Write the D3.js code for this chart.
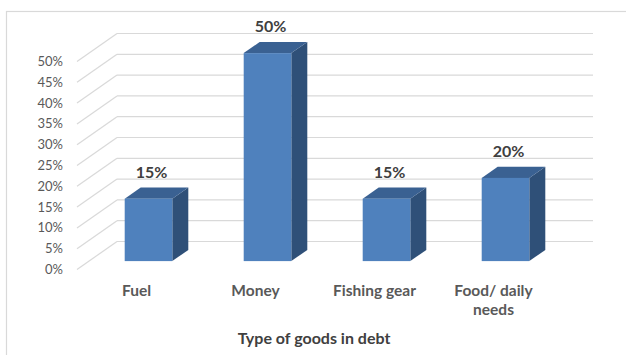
<!DOCTYPE html>
<html>
<head>
<meta charset="utf-8">
<script src="https://cdn.jsdelivr.net/npm/d3@7"></script>
<style>
  html, body { margin: 0; padding: 0; background: #fff; }
  svg { display: block; }
  text { font-family: Lato, "Open Sans", sans-serif; }
</style>
</head>
<body>
<svg id="chart" width="626" height="355"></svg>
<script>
// ---- data ----
const categories = ["Fuel", "Money", "Fishing gear", "Food/ daily needs"];
const categoryLines = [["Fuel"], ["Money"], ["Fishing gear"], ["Food/ daily", "needs"]];
const values = [0.15, 0.50, 0.15, 0.20];
const valueLabels = ["15%", "50%", "15%", "20%"];
const yTicks = [0, 0.05, 0.10, 0.15, 0.20, 0.25, 0.30, 0.35, 0.40, 0.45, 0.50];
const axisTitle = "Type of goods in debt";

// ---- layout ----
const svg = d3.select("#chart");
const DX = 40, DY = -28;          // full depth offset of the 3D box
const f0 = 0.3, f1 = 0.7;         // bar depth range (fraction of full depth)

const x = d3.scaleBand().domain(categories).range([77, 553])
  .paddingInner(0.6).paddingOuter(0.3);
const y = d3.scaleLinear().domain([0, 0.5]).range([269.5, 61.5]);

// outer border
svg.append("rect").attr("x", 6.5).attr("y", 11.5).attr("width", 700).attr("height", 400)
  .attr("fill", "none").attr("stroke", "#d9d9d9").attr("stroke-width", 1.2);

// gridlines: diagonal on the left wall + horizontal on back wall
const grid = svg.append("g").attr("stroke", "#d9d9d9").attr("stroke-width", 1.2).attr("fill", "none");
yTicks.forEach(t => {
  const yf = y(t);
  grid.append("line").attr("x1", 77).attr("y1", yf).attr("x2", 77 + DX).attr("y2", yf + DY);
  grid.append("line").attr("x1", 77 + DX).attr("y1", yf + DY).attr("x2", 553 + DX).attr("y2", yf + DY);
});

// y tick labels
svg.append("g").selectAll("text").data(yTicks).join("text")
  .attr("x", 63).attr("y", d => y(d)).attr("dy", "0.35em")
  .attr("text-anchor", "end").attr("font-size", 13).attr("fill", "#595959")
  .text(d3.format(".0%"));

// bars
const bars = svg.append("g");
const bw = x.bandwidth();
values.forEach((v, i) => {
  const c = categories[i];
  const x0 = x(c) + f0 * DX, x1 = x0 + bw;
  const yt = y(v) + f0 * DY, yb = y(0) + f0 * DY;
  const ddx = (f1 - f0) * DX, ddy = (f1 - f0) * DY;
  bars.append("path")
    .attr("d", `M${x1},${yt}L${x1 + ddx},${yt + ddy}L${x1 + ddx},${yb + ddy}L${x1},${yb}Z`)
    .attr("fill", "#2f5078");
  bars.append("path")
    .attr("d", `M${x0},${yt}L${x0 + ddx},${yt + ddy}L${x1 + ddx},${yt + ddy}L${x1},${yt}Z`)
    .attr("fill", "#3a6192");
  bars.append("rect").attr("x", x0).attr("y", yt).attr("width", bw).attr("height", yb - yt)
    .attr("fill", "#4f81bd");
  bars.append("text")
    .attr("x", x0 + bw / 2 + 3).attr("y", yt + ddy - 10)
    .attr("text-anchor", "middle").attr("font-size", 16).attr("font-weight", "bold")
    .attr("fill", "#404040").text(valueLabels[i]);
});

// category labels
const cat = svg.append("g");
categories.forEach((c, i) => {
  const t = cat.append("text")
    .attr("x", x(c) + bw / 2).attr("y", 296)
    .attr("text-anchor", "middle").attr("font-size", 15.5).attr("font-weight", "bold")
    .attr("fill", "#595959");
  categoryLines[i].forEach((ln, j) => {
    t.append("tspan").attr("x", x(c) + bw / 2).attr("dy", j === 0 ? 0 : 19).text(ln);
  });
});

// axis title
svg.append("text").attr("x", 314).attr("y", 344).attr("text-anchor", "middle")
  .attr("font-size", 16).attr("font-weight", "bold").attr("fill", "#404040").text(axisTitle);
</script>
</body>
</html>
